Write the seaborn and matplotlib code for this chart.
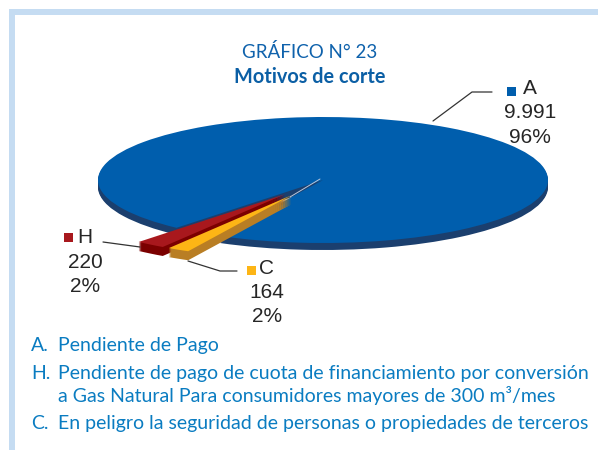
import seaborn as sns
import matplotlib.pyplot as plt
from matplotlib.lines import Line2D
from matplotlib.patches import Rectangle

# datos
categorias = ['A', 'H', 'C']
valores = [9991, 220, 164]
porcentajes = ['96%', '2%', '2%']
etiquetas = ['9.991', '220', '164']
colores_top = ['#005ead', '#a8181d', '#fdb515']
colores_lado = ['#1b3f6e', '#7b0000', '#b97e24']
explode = [0, 0.28, 0.28]

titulo1 = 'GRÁFICO N° 23'
titulo2 = 'Motivos de corte'
leyenda = [
    ('A.', 'Pendiente de Pago', 345.5),
    ('H.', 'Pendiente de pago de cuota de financiamiento por conversión', 373.5),
    ('', 'a Gas Natural Para consumidores mayores de 300 m³/mes', 395.5),
    ('C.', 'En peligro la seguridad de personas o propiedades de terceros', 423.5),
]

sns.set_theme(style='white')
plt.rcParams['font.family'] = ['Liberation Sans', 'DejaVu Sans']

W, H = 598, 450
fig = plt.figure(figsize=(W / 100, H / 100), dpi=100)
ax = fig.add_axes([0, 0, 1, 1])


def px(x, y):
    return x / W, 1 - y / H


# marco azul claro
marco = '#c5dcf2'
fig.add_artist(Rectangle(px(9, 450), 5.5 / W, 441 / H, transform=fig.transFigure, color=marco, lw=0))
fig.add_artist(Rectangle(px(9, 14.5), 589 / W, 5.5 / H, transform=fig.transFigure, color=marco, lw=0))

# torta con perspectiva: se apilan copias hacia abajo para el espesor
cx, cy, rx, ry = 323, 180, 225, 63
start = -117.3
for d in list(range(9, 0, -1)) + [0]:
    cols = colores_top if d == 0 else colores_lado
    wedges, _ = ax.pie(valores, explode=explode, colors=cols, startangle=start,
                       center=(0, -d / ry), radius=1, wedgeprops={'linewidth': 0})
    # el sector azul tiene menos espesor que los separados
    wedges[0].set_visible(d <= 7)
    wedges[0].set_zorder(3 if d == 0 else 2)
    for w in wedges[1:]:
        w.set_zorder(5 if d == 0 else 4)
ax.set_aspect('auto')
ax.set_xlim(-cx / rx, (W - cx) / rx)
ax.set_ylim(-(H - cy) / ry, cy / ry)
ax.axis('off')

# titulos
fig.text(*px(310, 52), titulo1, family='Lato', fontsize=13.5, color='#0f62ac', ha='center', va='center')
fig.text(*px(310, 77), titulo2, family='Lato', fontsize=14.3, weight='bold', color='#0b5fa5', ha='center', va='center')

# etiquetas de cada sector
marcas = {'A': (507, 87), 'H': (64, 233), 'C': (247, 266)}
pos = {'A': (530, [88, 113, 137]), 'H': (85, [238, 263, 287]), 'C': (267, [268, 293, 317])}
for i, cat in enumerate(categorias):
    mx, my = marcas[cat]
    fig.add_artist(Rectangle(px(mx, my + 9), 9 / W, 9 / H, transform=fig.transFigure, color=colores_top[i], lw=0))
    tx, ys = pos[cat]
    for s, y in zip([cat, etiquetas[i], porcentajes[i]], ys):
        fig.text(*px(tx, y), s, fontsize=15, color='#262626', ha='center', va='center')

# lineas guia
guias = [[(433, 121), (472, 92), (492, 92)],
         [(103, 242), (140, 247)],
         [(188, 261), (220, 271), (237, 271)]]
for g in guias:
    xs, ys = zip(*[px(*p) for p in g])
    fig.add_artist(Line2D(xs, ys, color='#333333', lw=0.9))
xs, ys = zip(*[px(320, 179), px(290, 197)])
fig.add_artist(Line2D(xs, ys, color='#b9c7dc', lw=0.7))

# leyenda inferior
for letra, txt, y in leyenda:
    if letra:
        fig.text(*px(31, y), letra, family='Lato', fontsize=14, color='#0a7cc1', ha='left', va='center')
    fig.text(*px(58, y), txt, family='Lato', fontsize=14, color='#0a7cc1', ha='left', va='center')

fig.savefig('out.png', dpi=100)
